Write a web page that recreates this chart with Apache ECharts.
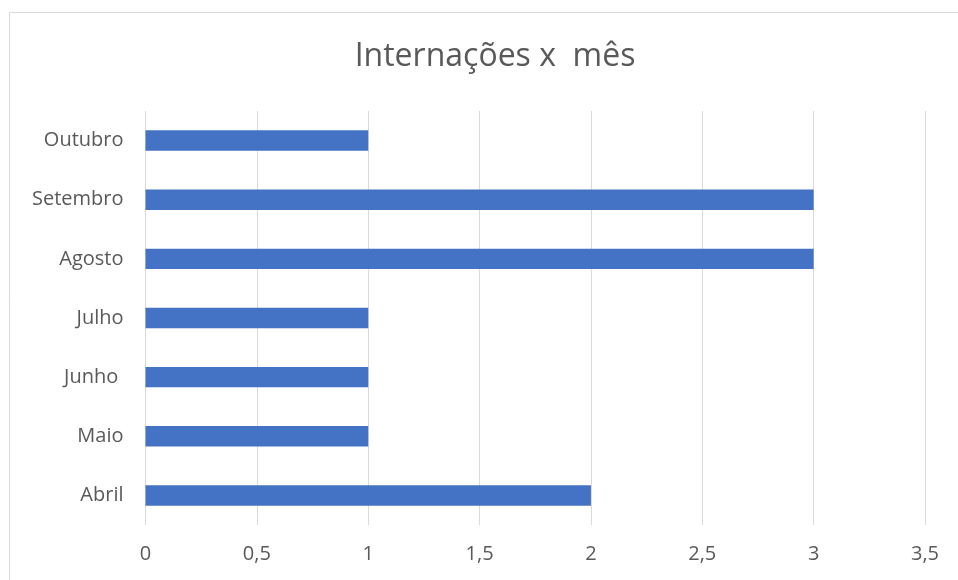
<!DOCTYPE html>
<html>
<head>
<meta charset="utf-8">
<script src="https://cdn.jsdelivr.net/npm/echarts@6/dist/echarts.min.js"></script>
<style>html,body{margin:0;padding:0;background:#fff;}#c{width:958px;height:580px;}</style>
</head>
<body>
<div id="c"></div>
<script>
const titleText = 'Internações x  mês';
const categories = ['Abril', 'Maio', 'Junho ', 'Julho', 'Agosto', 'Setembro', 'Outubro'];
const values = [2, 1, 1, 1, 3, 3, 1];
const xTicks = { min: 0, max: 3.5, interval: 0.5 };

const chart = echarts.init(document.getElementById('c'), null, { renderer: 'canvas' });
const font = '"Open Sans", sans-serif';
chart.setOption({
  animation: false,
  backgroundColor: '#ffffff',
  graphic: [{
    type: 'rect',
    shape: { x: 9.5, y: 12.5, width: 1000, height: 600 },
    style: { fill: 'none', stroke: '#d9d9d9', lineWidth: 1 },
    silent: true
  }],
  title: {
    text: titleText,
    left: 490, top: 36,
    textAlign: 'center',
    textStyle: { fontFamily: font, fontSize: 32, fontWeight: 'normal', color: '#595959' }
  },
  grid: { left: 145.5, right: 33, top: 111, bottom: 55, containLabel: false },
  xAxis: {
    type: 'value',
    min: xTicks.min, max: xTicks.max, interval: xTicks.interval,
    axisLine: { show: false }, axisTick: { show: false },
    splitLine: { show: true, lineStyle: { color: '#d9d9d9', width: 1 } },
    axisLabel: {
      margin: 19, fontFamily: font, fontSize: 20, color: '#595959',
      formatter: v => String(v).replace('.', ',')
    }
  },
  yAxis: {
    type: 'category',
    data: categories,
    axisLine: { show: false }, axisTick: { show: false },
    splitLine: { show: false },
    axisLabel: { margin: 22, fontFamily: font, fontSize: 20, color: '#595959' }
  },
  series: [{
    type: 'bar',
    data: values,
    barWidth: '34.5%',
    itemStyle: { color: '#4472C4' }
  }]
});
</script>
</body>
</html>
